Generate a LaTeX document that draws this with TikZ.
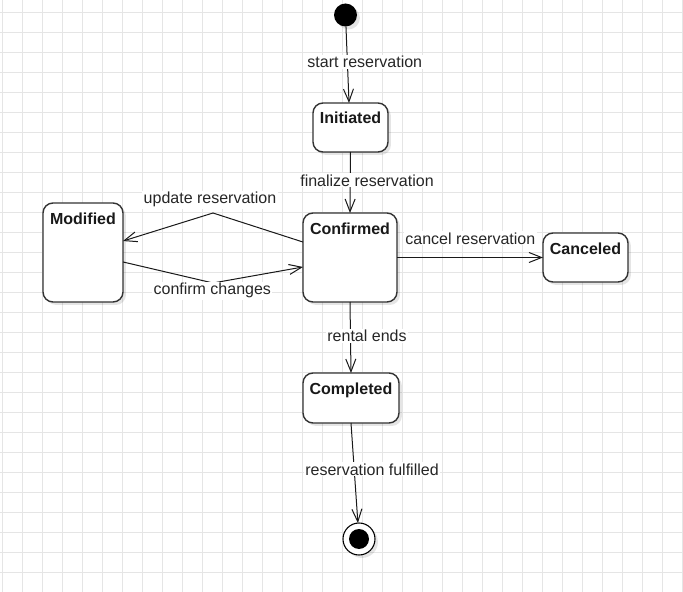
\documentclass[tikz,border=0pt]{standalone}
\usepackage{fontspec}
\setmainfont{Liberation Sans}
\usetikzlibrary{arrows.meta,shadows}
\begin{document}
\begin{tikzpicture}[x=0.75pt,y=-0.75pt,
  font=\fontsize{12}{14}\selectfont,
  gridline/.style={draw=gray!20, line width=0.75pt},
  softshadow/.style={drop shadow={shadow xshift=2.2pt, shadow yshift=-2.2pt, opacity=0.10, fill=black}},
  state/.style={draw=black!80, line width=1.05pt, rounded corners=7.5pt, fill=white,
    outer sep=0pt, inner sep=0pt, softshadow},
  statename/.style={font=\fontsize{12}{14}\selectfont\bfseries, text=black!90, anchor=base, inner sep=0pt},
  initstate/.style={circle, fill=black, minimum size=23*0.75pt, inner sep=0pt, outer sep=0pt, softshadow},
  finalstate/.style={circle, draw=black, fill=white, line width=0.8pt, minimum size=32*0.75pt,
    inner sep=0pt, outer sep=0pt, softshadow,
    path picture={\fill[black] (path picture bounding box.center) circle (7.5pt);}},
  edge/.style={draw=black!90, line width=0.75pt, -{Straight Barb[length=9.5pt,width=7.5pt,line width=0.75pt]}},
  elabel/.style={fill=white, inner sep=1pt, text=black!85, anchor=base}
]
% page and background grid
\useasboundingbox (0,0) rectangle (683,592);
\fill[white] (0,0) rectangle (683,592);
\foreach \gx in {0,...,34} \draw[gridline] ({2.7+20*\gx},0) -- ({2.7+20*\gx},592);
\foreach \gy in {0,...,28} \draw[gridline] (0,{12.7+20*\gy}) -- (683,{12.7+20*\gy});

% states
\node[initstate] (start) at (345.5,15) {};
\node[state, minimum width=75*0.75pt, minimum height=49*0.75pt] (initiated) at (350.5,127.5) {};
\node[state, minimum width=94*0.75pt, minimum height=89*0.75pt] (confirmed) at (350,257.5) {};
\node[state, minimum width=80*0.75pt, minimum height=99*0.75pt] (modified) at (83,252.5) {};
\node[state, minimum width=85*0.75pt, minimum height=49*0.75pt] (canceled) at (585.5,257.5) {};
\node[state, minimum width=96*0.75pt, minimum height=50*0.75pt] (completed) at (351,398) {};
\node[finalstate] (final) at (359,539) {};

\node[statename] (initiatedName) at (350.5,124) {Initiated};
\node[statename] (confirmedName) at (350,234) {Confirmed};
\node[statename] (modifiedName) at (83,224) {Modified};
\node[statename] (canceledName) at (585.5,254) {Canceled};
\node[statename] (completedName) at (351,394) {Completed};

% bend points of the update / confirm loop
\coordinate (updateBend) at (213,213);
\coordinate (confirmBend) at (213,283);

% transitions
\draw[edge] (start) -- ([xshift=-1.1pt]initiated.north);
\draw[edge] (initiated.south) -- (confirmed.north);
\draw[edge] ([yshift=11.6pt]confirmed.west) -- (updateBend) -- ([yshift=8.6pt]modified.east);
\draw[edge] ([yshift=-7.1pt]modified.east) -- (confirmBend) -- ([yshift=-7.1pt]confirmed.west);
\draw[edge] (confirmed.east) -- (canceled.west);
\draw[edge] (confirmed.south) -- (completed.south |- completed.north);
\draw[edge] (completed.south) -- (final);

% transition labels
\node[elabel] (lblStart) at (364.8,67.5) {start reservation};
\node[elabel] (lblFinalize) at (367,186) {finalize reservation};
\node[elabel] (lblUpdate) at (210,204) {update reservation};
\node[elabel] (lblConfirm) at (212.3,295) {confirm changes};
\node[elabel] (lblCancel) at (470.3,244) {cancel reservation};
\node[elabel] (lblRental) at (367,341.5) {rental ends};
\node[elabel] (lblFulfilled) at (372,475) {reservation fulfilled};
\end{tikzpicture}
\end{document}
